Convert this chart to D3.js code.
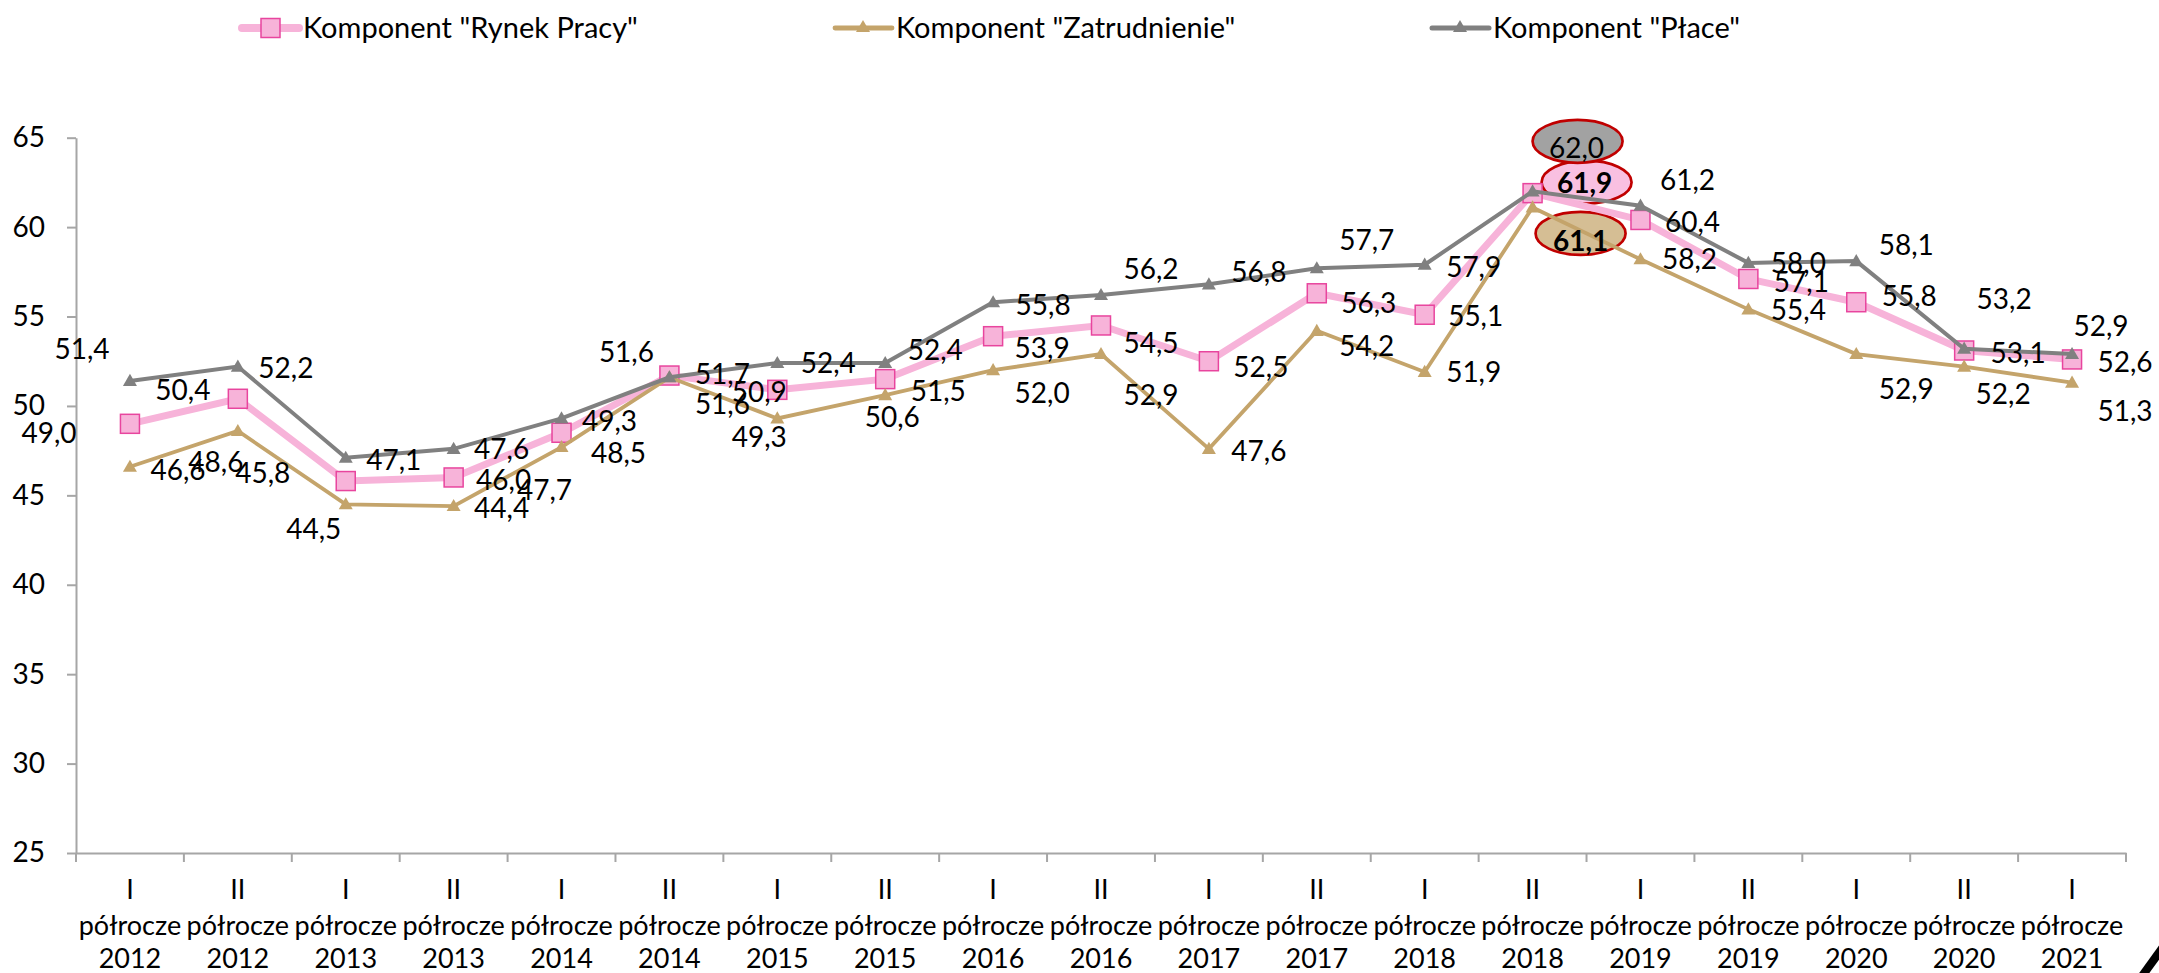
<!DOCTYPE html>
<html><head><meta charset="utf-8">
<script src="https://cdn.jsdelivr.net/npm/d3@7"></script>
<style>
body{margin:0;background:#fff;}
svg{display:block;}
text{font-family:Lato,"Liberation Sans",sans-serif;fill:#000;}
</style>
</head><body>
<svg id="chart" width="2159" height="973"></svg>
<script>
// ---------- data ----------
const halves = ["I","II","I","II","I","II","I","II","I","II","I","II","I","II","I","II","I","II","I"];
const years  = ["2012","2012","2013","2013","2014","2014","2015","2015","2016","2016","2017","2017","2018","2018","2019","2019","2020","2020","2021"];
const categories = halves.map((h,i)=>h+" półrocze "+years[i]);

const rynekPracy   = [49.0,50.4,45.8,46.0,48.5,51.7,50.9,51.5,53.9,54.5,52.5,56.3,55.1,61.9,60.4,57.1,55.8,53.1,52.6];
const zatrudnienie = [46.6,48.6,44.5,44.4,47.7,51.6,49.3,50.6,52.0,52.9,47.6,54.2,51.9,61.1,58.2,55.4,52.9,52.2,51.3];
const place        = [51.4,52.2,47.1,47.6,49.3,51.6,52.4,52.4,55.8,56.2,56.8,57.7,57.9,62.0,61.2,58.0,58.1,53.2,52.9];

const seriesNames = ['Komponent "Rynek Pracy"','Komponent "Zatrudnienie"','Komponent "Płace"'];
const yTicks = [25,30,35,40,45,50,55,60,65];
const peakIndex = 13;

// label nudges (label centre relative to its point, px)
const labelNudgeRynek = [[-81,9],[-55,-9],[-83,-8],[50,2],[57,20],[53,-2],[-18,2],[53,12],[49,12],[50,17],[52,6],[52,10],[51,1],[52,-10],[52,2],[53,3],[53,-6],[54,2],[53,2]];
const labelNudgeZatr  = [[48,3],[-22,31],[-32,25],[48,2],[-17,43],[53,27],[-18,18],[7,22],[49,23],[50,41],[50,2],[50,15],[49,0],[48,33],[49,0],[50,1],[50,35],[39,27],[53,28]];
const labelNudgePlace = [[-48,-32],[48,1],[48,2],[48,0],[48,2],[-43,-25],[51,0],[50,-13],[50,3],[50,-26],[50,-12],[50,-28],[49,2],[44,-43],[47,-26],[50,0],[50,-16],[40,-50],[29,-28]];
// ellipse centre relative to peak point
const ellipseNudge = {rynek:[54,-11], zatr:[48,26], place:[45,-50]};

// ---------- setup ----------
const svg = d3.select("#chart");
const FS = 28;
const fmt = v => d3.format(".1f")(v).replace(".", ",");

const x = d3.scaleBand().domain(categories).range([76,2126]).paddingInner(0).paddingOuter(0);
const cx = c => x(c) + x.bandwidth()/2;
const y = d3.scaleLinear().domain([25,65]).range([853,137.7]);

const series = [
  {key:"rynek", name:seriesNames[0], values:rynekPracy, color:"#f7b3d9", width:7, marker:"square", nudge:labelNudgeRynek, efill:"#f9c0e1", bold:true},
  {key:"zatr", name:seriesNames[1], values:zatrudnienie, color:"#c4a46b", width:3.8, marker:"triangle", nudge:labelNudgeZatr, efill:"#d5be94", bold:true},
  {key:"place", name:seriesNames[2], values:place, color:"#808080", width:4, marker:"triangle", nudge:labelNudgePlace, efill:"#a2a2a2", bold:false}
];

// ---------- axes ----------
const axisColor = "#a6a6a6";
const yAxis = svg.append("g").attr("transform","translate(76,0)")
  .call(d3.axisLeft(y).tickValues(yTicks).tickSize(9).tickSizeOuter(0).tickPadding(22).tickFormat(d3.format("d")));
yAxis.select(".domain").attr("stroke",axisColor).attr("stroke-width",2);
yAxis.selectAll(".tick line").attr("stroke",axisColor).attr("stroke-width",2);
yAxis.selectAll(".tick text").attr("font-size",FS).attr("font-family",'Lato,"Liberation Sans",sans-serif').attr("fill","#000");

const xAxis = svg.append("g").attr("transform","translate(0,853)")
  .call(d3.axisBottom(x).tickSize(0).tickSizeOuter(0).tickFormat(""));
xAxis.select(".domain").attr("stroke",axisColor).attr("stroke-width",2);
xAxis.selectAll(".tick").remove();
const bounds = categories.map(c=>x(c)).concat([x.range()[1]]);
svg.append("g").selectAll("line").data(bounds).join("line")
  .attr("x1",d=>d).attr("x2",d=>d).attr("y1",853).attr("y2",862)
  .attr("stroke",axisColor).attr("stroke-width",2);

const xl = svg.append("g").attr("font-size",27).attr("text-anchor","middle");
categories.forEach((c,i)=>{
  const t = xl.append("text").attr("x",cx(c));
  t.append("tspan").attr("x",cx(c)).attr("y",899).text(halves[i]);
  t.append("tspan").attr("x",cx(c)).attr("y",935).text("półrocze");
  t.append("tspan").attr("x",cx(c)).attr("y",968).text(years[i]);
});

// ---------- peak ellipses (under lines) ----------
const ellG = svg.append("g");
series.forEach(s=>{
  const px = cx(categories[peakIndex]), py = y(s.values[peakIndex]);
  const n = ellipseNudge[s.key];
  ellG.append("ellipse").attr("cx",px+n[0]).attr("cy",py+n[1]).attr("rx",45).attr("ry",21.5)
    .attr("fill",s.efill).attr("stroke","#c00000").attr("stroke-width",2.7);
});

// ---------- lines & markers ----------
const tri = d3.symbol().type(d3.symbolTriangle).size(85);
series.forEach(s=>{
  const line = d3.line().x((d,i)=>cx(categories[i])).y(d=>y(d));
  svg.append("path").datum(s.values).attr("d",line).attr("fill","none")
    .attr("stroke",s.color).attr("stroke-width",s.width).attr("stroke-linejoin","miter");
  const g = svg.append("g");
  if(s.marker==="square"){
    g.selectAll("rect").data(s.values).join("rect")
      .attr("x",(d,i)=>cx(categories[i])-9.5).attr("y",d=>y(d)-9.5)
      .attr("width",19).attr("height",19)
      .attr("fill","#f7b3d9").attr("stroke","#e8459e").attr("stroke-width",1.5);
  } else {
    g.selectAll("path").data(s.values).join("path").attr("d",tri)
      .attr("transform",(d,i)=>`translate(${cx(categories[i])},${y(d)+1})`)
      .attr("fill",s.color);
  }
});

// ---------- data labels ----------
const lab = svg.append("g").attr("font-size",FS).attr("text-anchor","middle");
series.forEach(s=>{
  s.values.forEach((v,i)=>{
    const n = s.nudge[i];
    lab.append("text")
      .attr("x",cx(categories[i])+n[0]).attr("y",y(v)+n[1]).attr("dy","0.36em")
      .attr("font-weight",(i===peakIndex && s.bold)?"bold":"normal")
      .text(fmt(v));
  });
});

// ---------- legend ----------
const legendX = [242, 835, 1432];
const leg = svg.append("g");
series.forEach((s,k)=>{
  const x0 = legendX[k], ly = 28;
  leg.append("line").attr("x1",x0).attr("x2",x0+57).attr("y1",ly).attr("y2",ly)
    .attr("stroke",s.color).attr("stroke-width",s.width+1).attr("stroke-linecap","round");
  if(s.marker==="square"){
    leg.append("rect").attr("x",x0+19).attr("y",ly-9.5).attr("width",19).attr("height",19)
      .attr("fill","#f7b3d9").attr("stroke","#e8459e").attr("stroke-width",1.5);
  } else {
    leg.append("path").attr("d",tri).attr("transform",`translate(${x0+28},${ly})`).attr("fill",s.color);
  }
  leg.append("text").attr("x",x0+61).attr("y",ly).attr("dy","0.36em").attr("font-size",FS+1).text(s.name);
});

// corner artefact
svg.append("path").attr("d","M2137,976 L2160,944 L2166,950 L2145,979 Z").attr("fill","#000");
</script>
</body></html>
